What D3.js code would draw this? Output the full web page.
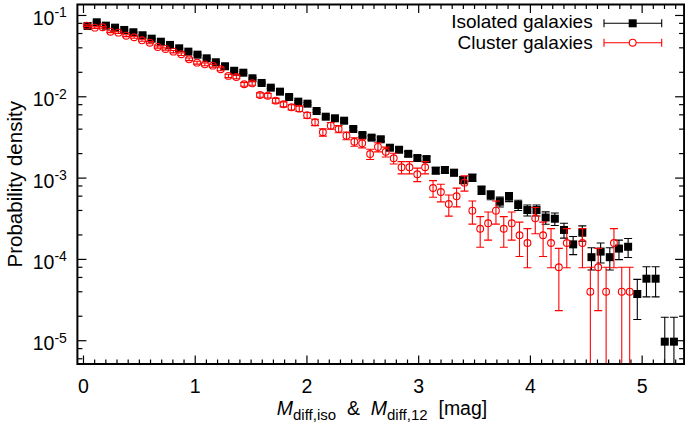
<!DOCTYPE html>
<html>
<head>
<meta charset="utf-8">
<script src="https://cdn.jsdelivr.net/npm/d3@7/dist/d3.min.js"></script>
<style>
  body { margin: 0; background: #fff; }
  text { font-family: "Liberation Sans", Arial, sans-serif; fill: #000; }
</style>
</head>
<body>
<div id="chart"></div>
<script>
// Isolated galaxies (black squares): bin centres, density, error
const isoX = [0.041, 0.123, 0.205, 0.287, 0.369, 0.451, 0.533, 0.615, 0.697, 0.779,
  0.861, 0.943, 1.025, 1.107, 1.189, 1.271, 1.353, 1.435, 1.517, 1.599,
  1.681, 1.763, 1.845, 1.927, 2.009, 2.091, 2.173, 2.255, 2.337, 2.419,
  2.501, 2.583, 2.665, 2.747, 2.829, 2.911, 2.993, 3.075, 3.157, 3.239,
  3.321, 3.403, 3.485, 3.567, 3.649, 3.731, 3.813, 3.895, 3.977, 4.059,
  4.141, 4.223, 4.305, 4.387, 4.469, 4.551, 4.633, 4.715, 4.797, 4.879,
  4.961, 5.043, 5.125, 5.207, 5.289];
const isoY = [0.0732, 0.0813, 0.0739, 0.0698, 0.0654, 0.0613, 0.0563, 0.0511, 0.0469, 0.0428,
  0.0389, 0.0354, 0.0325, 0.0293, 0.0262, 0.0234, 0.0206, 0.0195, 0.01665, 0.01458,
  0.01276, 0.0114, 0.0098, 0.00859, 0.00811, 0.00659, 0.00561, 0.00536, 0.00501, 0.00396,
  0.00334, 0.0031, 0.00296, 0.00233, 0.0022, 0.00196, 0.00174, 0.00169, 0.00122, 0.00124,
  0.00115, 0.000934, 0.000997, 0.000704, 0.000611, 0.000505, 0.000582, 0.00046, 0.000399, 0.000399,
  0.000323, 0.000312, 0.000227, 0.000151, 0.00021, 0.000105, 0.000123, 0.000105, 0.000134, 0.000141,
  3.7e-5, 5.71e-5, 5.71e-5, 9.6e-6, 9.6e-6];
const isoErr = [8.4e-4, 8.8e-4, 8.4e-4, 8.2e-4, 7.9e-4, 7.7e-4, 7.4e-4, 7.0e-4, 6.7e-4, 6.4e-4,
  6.1e-4, 5.8e-4, 5.6e-4, 5.3e-4, 5.0e-4, 4.7e-4, 4.4e-4, 4.3e-4, 4.0e-4, 3.7e-4,
  3.5e-4, 3.3e-4, 3.1e-4, 2.9e-4, 2.8e-4, 2.5e-4, 2.3e-4, 2.3e-4, 2.2e-4, 1.95e-4,
  1.79e-4, 1.72e-4, 1.69e-4, 1.5e-4, 1.45e-4, 1.37e-4, 1.29e-4, 1.27e-4, 1.08e-4, 1.09e-4,
  1.05e-4, 9.5e-5, 9.8e-5, 8.2e-5, 7.7e-5, 7.0e-5, 7.5e-5, 6.6e-5, 6.2e-5, 6.2e-5,
  5.6e-5, 5.5e-5, 4.7e-5, 3.8e-5, 4.5e-5, 3.2e-5, 3.4e-5, 3.2e-5, 3.6e-5, 3.7e-5,
  1.9e-5, 2.3e-5, 2.3e-5, 9.6e-6, 9.6e-6];

// Cluster galaxies (red open circles)
const cluX = [0.035, 0.106, 0.176, 0.246, 0.317, 0.387, 0.458, 0.528, 0.598, 0.669,
  0.739, 0.810, 0.880, 0.950, 1.021, 1.091, 1.162, 1.232, 1.302, 1.373,
  1.443, 1.514, 1.584, 1.654, 1.725, 1.795, 1.866, 1.936, 2.006, 2.077,
  2.147, 2.218, 2.288, 2.358, 2.429, 2.499, 2.570, 2.640, 2.710, 2.781,
  2.851, 2.922, 2.992, 3.062, 3.133, 3.203, 3.274, 3.344, 3.414, 3.485,
  3.555, 3.626, 3.696, 3.766, 3.837, 3.907, 3.978, 4.048, 4.118, 4.189,
  4.259, 4.330, 4.470, 4.541, 4.611, 4.682, 4.752, 4.822, 4.893];
const cluY = [0.0739, 0.0698, 0.0706, 0.0623, 0.0606, 0.0556, 0.0532, 0.0488, 0.0456, 0.0404,
  0.0382, 0.0354, 0.0329, 0.0285, 0.0259, 0.0247, 0.0238, 0.0215, 0.0178, 0.01727,
  0.01405, 0.01445, 0.01038, 0.01017, 0.00883, 0.00797, 0.00732, 0.00704, 0.00584, 0.00479,
  0.00361, 0.00435, 0.00396, 0.00328, 0.00276, 0.00264, 0.00195, 0.00238, 0.00208, 0.00173,
  0.00134, 0.00134, 0.0011, 0.00134, 0.000745, 0.000665, 0.000473, 0.000589, 0.000866, 0.000392,
  0.000235, 0.000274, 0.000392, 0.000235, 0.000274, 0.000195, 0.000157, 0.000316, 0.000195, 0.000157,
  7.9e-5, 0.000157, 0.000157, 3.95e-5, 7.9e-5, 3.95e-5, 0.000157, 3.95e-5, 3.95e-5];
const cluErr = [1.71e-3, 1.66e-3, 1.67e-3, 1.57e-3, 1.55e-3, 1.48e-3, 1.45e-3, 1.39e-3, 1.34e-3, 1.26e-3,
  1.23e-3, 1.18e-3, 1.14e-3, 1.06e-3, 1.01e-3, 9.9e-4, 9.7e-4, 9.2e-4, 8.4e-4, 8.3e-4,
  7.4e-4, 7.6e-4, 6.4e-4, 6.3e-4, 5.9e-4, 5.6e-4, 5.4e-4, 5.3e-4, 4.8e-4, 4.35e-4,
  3.78e-4, 4.15e-4, 3.95e-4, 3.6e-4, 3.3e-4, 3.23e-4, 2.78e-4, 3.07e-4, 2.87e-4, 2.61e-4,
  2.3e-4, 2.3e-4, 2.08e-4, 2.3e-4, 1.72e-4, 1.62e-4, 1.37e-4, 1.53e-4, 1.85e-4, 1.24e-4,
  9.6e-5, 1.04e-4, 1.24e-4, 9.6e-5, 1.04e-4, 8.8e-5, 7.9e-5, 1.12e-4, 8.8e-5, 7.9e-5,
  5.59e-5, 7.9e-5, 7.9e-5, 3.95e-5, 5.59e-5, 3.95e-5, 7.9e-5, 3.95e-5, 3.95e-5];

// Tick values
const xMajor = [0, 1, 2, 3, 4, 5];
const yMajor = [1e-5, 1e-4, 1e-3, 1e-2, 1e-1];
const yExp = ["-5", "-4", "-3", "-2", "-1"];

// Dimensions
const chartWidth = 685;
const chartHeight = 428;
const margin = { top: 4.5, right: 0.9, bottom: 64, left: 77.4 };
const width = chartWidth - margin.left - margin.right;
const height = chartHeight - margin.top - margin.bottom;

const svg = d3.select("#chart")
  .append("svg")
  .attr("width", chartWidth)
  .attr("height", chartHeight);

svg.append("defs").append("clipPath")
  .attr("id", "clip")
  .append("rect")
  .attr("width", width)
  .attr("height", height);

const plot = svg.append("g")
  .attr("transform", `translate(${margin.left}, ${margin.top})`);

// Scales
const xScale = d3.scaleLinear().domain([-0.05, 5.38]).range([0, width]);
const yScale = d3.scaleLog().domain([5.1e-6, 0.1345]).range([height, 0]);

// Minor ticks
const xMinor = d3.range(0, 54).map(d => d / 10).filter(d => d % 1 !== 0);
const yMinor = [];
[-6, -5, -4, -3, -2, -1].forEach(k => [2, 4, 6, 8].forEach(m => {
  const v = m * Math.pow(10, k);
  if (v > 5.1e-6 && v < 0.1345) yMinor.push(v);
}));

function noDomain(g) { g.select(".domain").remove(); }

// x axes (bottom with labels, top mirror)
plot.append("g")
  .attr("transform", `translate(0, ${height})`)
  .call(d3.axisBottom(xScale).tickValues(xMajor).tickSize(-8.5).tickPadding(15.5).tickFormat(d3.format("d")))
  .call(noDomain)
  .call(g => g.selectAll("text").attr("font-size", 19.5).attr("font-family", "Liberation Sans, Arial, sans-serif"));
plot.append("g")
  .attr("transform", `translate(0, ${height})`)
  .call(d3.axisBottom(xScale).tickValues(xMinor).tickSize(-4.5).tickFormat(""))
  .call(noDomain);
plot.append("g")
  .call(d3.axisTop(xScale).tickValues(xMajor).tickSize(-8.5).tickFormat(""))
  .call(noDomain);
plot.append("g")
  .call(d3.axisTop(xScale).tickValues(xMinor).tickSize(-4.5).tickFormat(""))
  .call(noDomain);

// y axes (left and right mirror)
plot.append("g")
  .call(d3.axisLeft(yScale).tickValues(yMajor).tickSize(-9).tickFormat(""))
  .call(noDomain);
plot.append("g")
  .call(d3.axisLeft(yScale).tickValues(yMinor).tickSize(-5).tickFormat(""))
  .call(noDomain);
plot.append("g")
  .attr("transform", `translate(${width}, 0)`)
  .call(d3.axisRight(yScale).tickValues(yMajor).tickSize(-9).tickFormat(""))
  .call(noDomain);
plot.append("g")
  .attr("transform", `translate(${width}, 0)`)
  .call(d3.axisRight(yScale).tickValues(yMinor).tickSize(-5).tickFormat(""))
  .call(noDomain);

plot.selectAll(".tick line").attr("stroke", "#000").attr("stroke-width", 1.2);

// y tick labels 10^k
const yLab = plot.append("g").selectAll("text")
  .data(yMajor)
  .join("text")
  .attr("x", -10.5)
  .attr("y", d => yScale(d) + 10)
  .attr("text-anchor", "end")
  .attr("font-size", 19.5);
yLab.append("tspan").text("10");
yLab.append("tspan")
  .attr("font-size", 14)
  .attr("dy", -7.5)
  .text((d, i) => yExp[i]);

// Series drawing
function drawSeries(xs, ys, errs, color, symbol) {
  const data = xs.map((x, i) => ({ x: x, y: ys[i], e: errs[i] }));
  const lo = d => (d.y - d.e > 0 ? yScale(d.y - d.e) : height + 10);
  const hi = d => yScale(d.y + d.e);
  const g = plot.append("g").attr("clip-path", "url(#clip)");

  g.selectAll(".bar")
    .data(data)
    .join("path")
    .attr("fill", "none")
    .attr("stroke", color)
    .attr("stroke-width", 1.1)
    .attr("d", d => {
      const cx = xScale(d.x);
      return `M${cx},${lo(d)}V${hi(d)}` +
        `M${cx - 4},${hi(d)}H${cx + 4}` +
        `M${cx - 4},${lo(d)}H${cx + 4}`;
    });

  if (symbol === "square") {
    g.selectAll(".pt")
      .data(data)
      .join("rect")
      .attr("x", d => xScale(d.x) - 4)
      .attr("y", d => yScale(d.y) - 4)
      .attr("width", 8)
      .attr("height", 8)
      .attr("fill", color);
  } else {
    g.selectAll(".pt")
      .data(data)
      .join("circle")
      .attr("cx", d => xScale(d.x))
      .attr("cy", d => yScale(d.y))
      .attr("r", 3.4)
      .attr("fill", "none")
      .attr("stroke", color)
      .attr("stroke-width", 1.1);
  }
}

drawSeries(isoX, isoY, isoErr, "#000", "square");
drawSeries(cluX, cluY, cluErr, "#ff0000", "circle");

// Frame
plot.append("rect")
  .attr("width", width)
  .attr("height", height)
  .attr("fill", "none")
  .attr("stroke", "#000")
  .attr("stroke-width", 2);

// Axis labels
svg.append("text")
  .attr("transform", `translate(21.5, ${margin.top + height / 2}) rotate(-90)`)
  .attr("text-anchor", "middle")
  .attr("font-size", 20.5)
  .text("Probability density");

const xl = svg.append("text")
  .attr("x", 382)
  .attr("y", 415)
  .attr("text-anchor", "middle")
  .attr("font-size", 19.5)
  .style("white-space", "pre");
xl.append("tspan").attr("font-style", "italic").text("M");
xl.append("tspan").attr("font-size", 15).attr("dy", 5).text("diff,iso");
xl.append("tspan").attr("dy", -5).text("  &  ");
xl.append("tspan").attr("font-style", "italic").text("M");
xl.append("tspan").attr("font-size", 15).attr("dy", 5).text("diff,12");
xl.append("tspan").attr("dy", -5).text("  [mag]");

// Legend
const legendItems = [
  { label: "Isolated galaxies", color: "#000", symbol: "square", y: 23.3, base: 28.3 },
  { label: "Cluster galaxies", color: "#ff0000", symbol: "circle", y: 42.7, base: 49 }
];
legendItems.forEach(item => {
  const lg = svg.append("g");
  lg.append("text")
    .attr("x", 592.7)
    .attr("y", item.base)
    .attr("text-anchor", "end")
    .attr("font-size", 19)
    .text(item.label);
  lg.append("path")
    .attr("fill", "none")
    .attr("stroke", item.color)
    .attr("stroke-width", 1.1)
    .attr("d", `M604,${item.y}H661.7M604,${item.y - 4}V${item.y + 4}M661.7,${item.y - 4}V${item.y + 4}`);
  if (item.symbol === "square") {
    lg.append("rect").attr("x", 628.7).attr("y", item.y - 4).attr("width", 8).attr("height", 8).attr("fill", item.color);
  } else {
    lg.append("circle").attr("cx", 632.7).attr("cy", item.y).attr("r", 3.4)
      .attr("fill", "#fff").attr("stroke", item.color).attr("stroke-width", 1.1);
  }
});
</script>
</body>
</html>
